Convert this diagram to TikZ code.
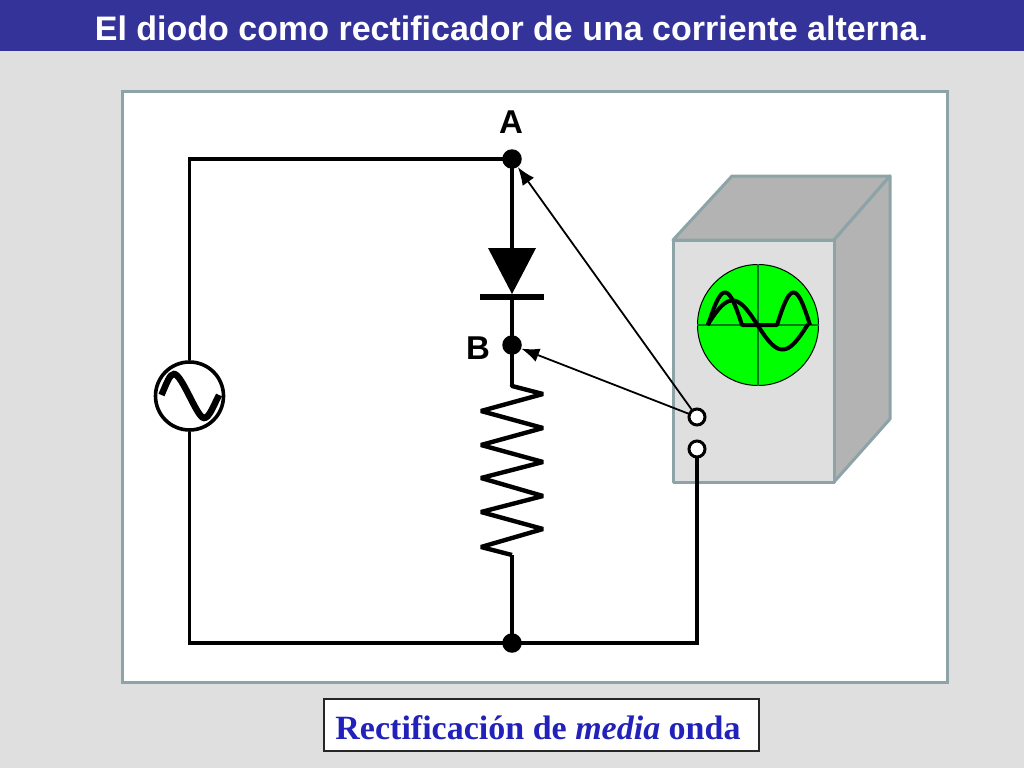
\documentclass[tikz,border=0pt]{standalone}
\usepackage{fontspec}
\setmainfont{Liberation Sans}
\newfontfamily\serifbold{Liberation Serif}
\usetikzlibrary{arrows.meta}
\definecolor{bgc}{HTML}{DFDFDF}
\definecolor{barc}{HTML}{333399}
\definecolor{edgec}{HTML}{8CA3A8}
\definecolor{boxc}{HTML}{B3B3B3}
\definecolor{labelc}{HTML}{2222BB}
\definecolor{scrc}{HTML}{00FF00}
\definecolor{gridc}{HTML}{007A20}
\tikzset{
  wire/.style={line width=3.8pt,black,line join=miter},
  dotnode/.style={circle,fill=black,draw=none,minimum size=19.5pt,inner sep=0pt},
  term/.style={circle,fill=white,draw=black,line width=3pt,minimum size=16pt,inner sep=0pt},
  probe/.style={line width=1.8pt,black,-{Latex[length=18pt,width=14pt]}},
  cab/.style={draw=edgec,line width=3pt,line join=round},
  letter/.style={font=\fontsize{33}{33}\selectfont\bfseries,inner sep=0pt},
  trace/.style={line width=4pt,black,line join=round}
}
\begin{document}
\begin{tikzpicture}[x=1pt,y=-1pt]
\useasboundingbox (0,0) rectangle (1024,768);
\fill[bgc] (0,0) rectangle (1024,768);
\fill[barc] (0,0) rectangle (1024,51);
\node[inner sep=0pt,text=white,font=\fontsize{34}{34}\selectfont\bfseries] (title) at (511.5,28) {El diodo como rectificador de una corriente alterna.};
\node[fill=white,draw=edgec,line width=3pt,minimum width=825pt,minimum height=591pt,inner sep=0pt] (panel) at (534.5,386.5) {};
% oscilloscope
\draw[cab,fill=boxc] (673,240) -- (732,176) -- (890,176) -- (834,240) -- cycle;
\draw[cab,fill=boxc] (834,240) -- (890,176) -- (890,419) -- (834,482) -- cycle;
\draw[cab,fill=bgc] (673,240) rectangle (834,482);
\node[circle,fill=scrc,draw=black,line width=1pt,minimum size=121pt,inner sep=0pt] (screen) at (758,325) {};
\draw[gridc,line width=1.2pt] (screen.west) -- (screen.east) (screen.north) -- (screen.south);
\draw[trace,smooth] plot[domain=707.5:808,samples=80] ({\x},{325-24.5*sin(3.6*(\x-707.5))});
\draw[trace] plot[domain=708:742,samples=30] ({\x},{325-32.5*sin(180*(\x-708)/34)}) -- (777,325) -- plot[domain=777:810,samples=30] ({\x},{325-32.5*sin(180*(\x-777)/33)});
% nodes
\node[letter] (lA) at (511,122) {A};
\node[letter] (lB) at (478,348) {B};
\node[dotnode] (A) at (512,159) {};
\node[dotnode] (B) at (512,345) {};
\node[dotnode] (C) at (512,643) {};
\node[circle,draw=black,line width=3.6pt,fill=white,minimum size=68pt,inner sep=0pt] (src) at (189.5,396) {};
\coordinate (TL) at (189.5,159);
\coordinate (BL) at (189.5,643);
\coordinate (BR) at (697,643);
\coordinate (Dtop) at (512,248);
\coordinate (Dbot) at (512,296);
\coordinate (Rtop) at (512,385);
\coordinate (Rbot) at (512,555);
% wires
\draw[wire] (A.center) -- (TL) -- (src.north);
\draw[wire] (src.south) -- (BL) -- (C.center);
\draw[wire] (A.center) -- (Dtop);
\draw[wire] (Dbot) -- (B.center);
\draw[wire] (B.center) -- (Rtop);
\draw[wire] (Rbot) -- (C.center);
% source wave
\draw[line width=6.5pt,black] (161.5,395) .. controls (167,382) and (170,374) .. (174,374) .. controls (182,374) and (197,418) .. (204,418) .. controls (209,418) and (213,407) .. (219,395);
% diode
\fill[black] (488,248) -- (536,248) -- (512,294) -- cycle;
\fill[black] (479.5,293.5) rectangle (544,300);
% resistor
\draw[wire,line width=4.4pt,line join=bevel] (Rtop) -- (512,386) -- (543,394) -- (481,411) -- (543,428) -- (481,445) -- (543,462) -- (481,478) -- (543,496) -- (481,512) -- (543,529) -- (481,547) -- (512,555) -- (Rbot);
% terminals and probes
\draw[wire] (C.center) -- (BR) -- (697,449);
\draw[probe] (697,417) -- (A);
\draw[probe] (697,417) -- (B);
\node[term] (T1) at (697,417) {};
\node[term] (T2) at (697,449) {};
\node[draw=black!85,line width=1.3pt,fill=white,minimum width=435pt,minimum height=52pt,inner sep=0pt] (cap) at (541.5,725) {};
\node[inner sep=0pt,text=labelc,font=\fontsize{34}{34}\selectfont\serifbold\bfseries] (captext) at (538,728) {Rectificación de \textit{media} onda};
\end{tikzpicture}
\end{document}
